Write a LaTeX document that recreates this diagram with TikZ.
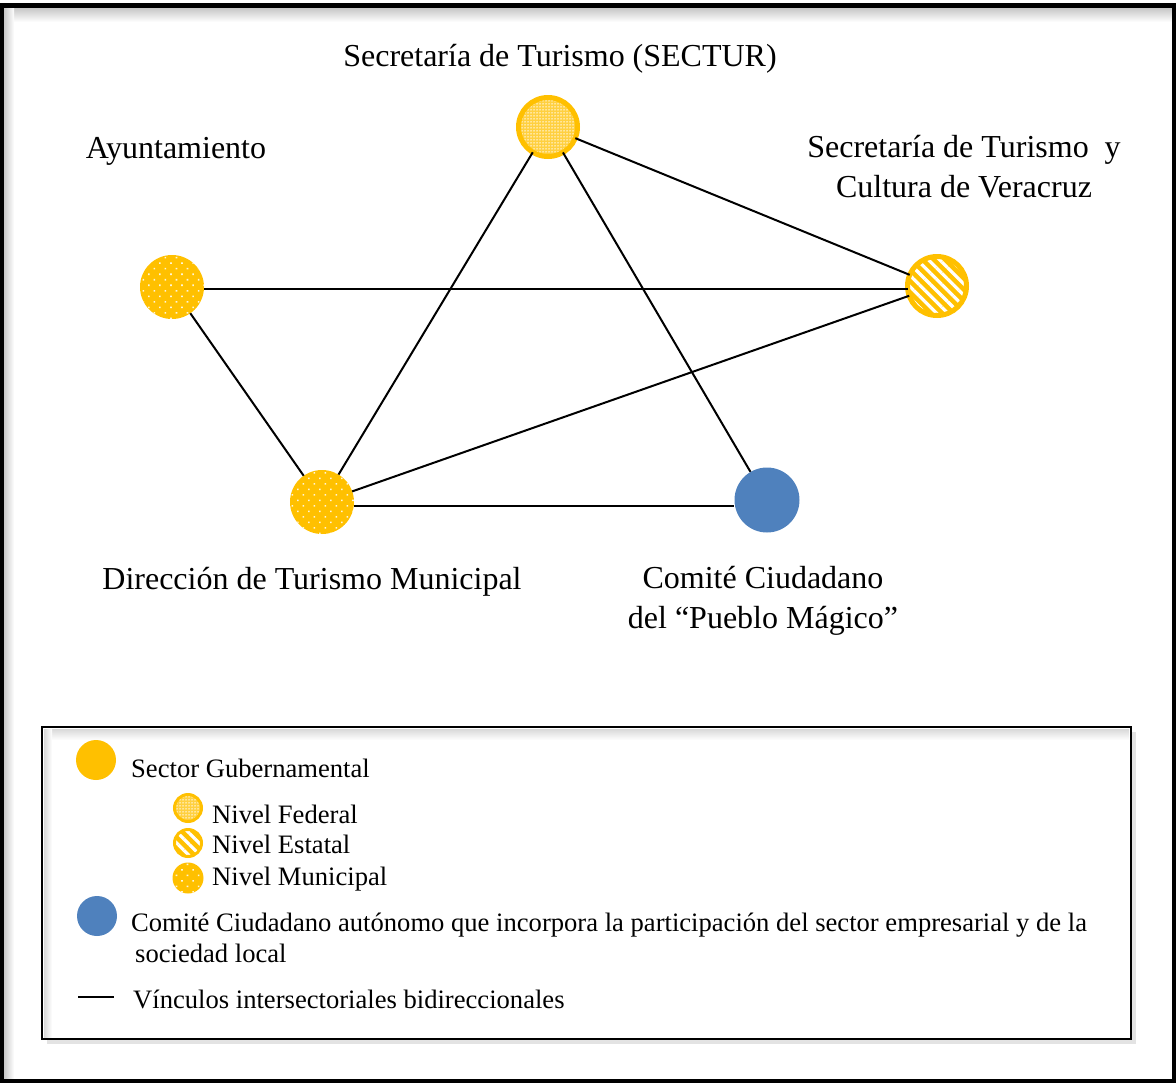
\documentclass[tikz,border=0pt]{standalone}
\usepackage{fontspec}
\setmainfont{Liberation Serif}
\usetikzlibrary{patterns.meta,shadows}
\definecolor{govyellow}{HTML}{FFC000}
\definecolor{citblue}{HTML}{4F81BD}
\tikzset{
	govbase/.style={circle, inner sep=0pt, outer sep=0pt},
	govplain/.style={govbase, fill=govyellow, minimum size=40pt},
	govfed/.style={govbase, draw=govyellow, line width=5pt, minimum size=59pt, preaction={fill=govyellow!75!white}, pattern={Dots[distance=3pt, radius=0.75pt]}, pattern color=white},
	govest/.style={govbase, draw=govyellow, line width=5pt, minimum size=59pt, preaction={fill=govyellow}, pattern={Lines[angle=-45, distance=8pt, line width=3.2pt]}, pattern color=white},
	govmun/.style={govbase, minimum size=64pt, preaction={fill=govyellow}, pattern={Dots[angle=45, distance=7.8pt, radius=1.1pt]}, pattern color=white!85!govyellow},
	citizen/.style={circle, inner sep=0pt, fill=citblue, minimum size=65pt},
	link/.style={line width=2pt, black},
	lbl/.style={inner sep=0pt, font=\fontsize{32}{40}\selectfont},
	keytext/.style={inner sep=0pt, anchor=base west, font=\fontsize{26.6}{31}\selectfont}
}
\begin{document}
\begin{tikzpicture}[x=1pt, y=-1pt]
			%%%%% START %%%%%
			\useasboundingbox (0, 0) rectangle (1176, 1085);
			
			% outer frame with a soft inner shadow
			\fill[top color=black!22, bottom color=white] (4, 8) rectangle (1172, 22);
			\fill[left color=black!22, right color=white] (4, 8) rectangle (14, 1079);
			\draw[line width=4.5pt] (2, 5.5) rectangle (1174, 1081);
			
			% actors
			\node[govfed] (sectur) at (548, 127) {};
			\node[govest] (veracruz) at (937, 286) {};
			\node[govmun] (ayunt) at (172, 287) {};
			\node[govmun] (direccion) at (322, 502) {};
			\node[citizen] (comite) at (767, 500) {};
			
			% links
			\draw[link] ([yshift=-2pt]ayunt.east) -- ([yshift=-3pt]veracruz.west);
			\draw[link] (ayunt) -- (direccion);
			\draw[link] (direccion) -- (sectur);
			\draw[link] (direccion) -- (veracruz);
			\draw[link] ([yshift=-4pt]direccion.east) -- ([yshift=-6pt]comite.west);
			\draw[link] (sectur) -- (veracruz);
			\draw[link] (sectur) -- (comite);
			
			% names
			\node[lbl, anchor=base] (tsectur) at (560, 66) {Secretaría de Turismo (SECTUR)};
			\node[lbl, anchor=base] (tayunt) at (176, 158) {Ayuntamiento};
			\node[lbl, align=center] (tveracruz) at (964, 167) {Secretaría de Turismo\ \ y\\Cultura de Veracruz};
			\node[lbl, anchor=base] (tdireccion) at (312, 589) {Dirección de Turismo Municipal};
			\node[lbl, align=center] (tcomite) at (763, 601) {Comité Ciudadano\\del “Pueblo Mágico”};
			
			% legend
			\draw[line width=2pt, fill=white, drop shadow={shadow xshift=5pt, shadow yshift=-5pt, opacity=0.22}] (42, 727) rectangle (1131, 1039);
			\fill[top color=black!15, bottom color=white] (44, 729) rectangle (1129, 740);
			\fill[left color=black!15, right color=white] (44, 729) rectangle (52, 1037);
			
			\node[govplain] (kgov) at (96, 760) {};
			\node[keytext] (tkgov) at (131, 777) {Sector Gubernamental};
			
			\node[govfed, line width=3pt, minimum size=27pt] (kfed) at (188, 808) {};
			\node[keytext] (tkfed) at (212, 823) {Nivel Federal};
			\node[govest, line width=3pt, minimum size=27pt] (kest) at (188, 843) {};
			\node[keytext] (tkest) at (212, 853) {Nivel Estatal};
			\node[govmun, minimum size=31pt] (kmun) at (188, 878) {};
			\node[keytext] (tkmun) at (212, 885) {Nivel Municipal};
			
			\node[citizen, minimum size=40pt] (kcit) at (97, 916) {};
			\node[keytext, align=left] (tkcit) at (131, 962) {Comité Ciudadano autónomo que incorpora la participación del sector empresarial y de la\\\hspace*{4pt}sociedad local};
			
			\coordinate (klinkA) at (78, 997);
			\coordinate (klinkB) at (114, 997);
			\draw[link] (klinkA) -- (klinkB);
			\node[keytext] (tklink) at (133, 1008) {Vínculos intersectoriales bidireccionales};
			
			%%%%% END %%%%%
\end{tikzpicture}
\end{document}
